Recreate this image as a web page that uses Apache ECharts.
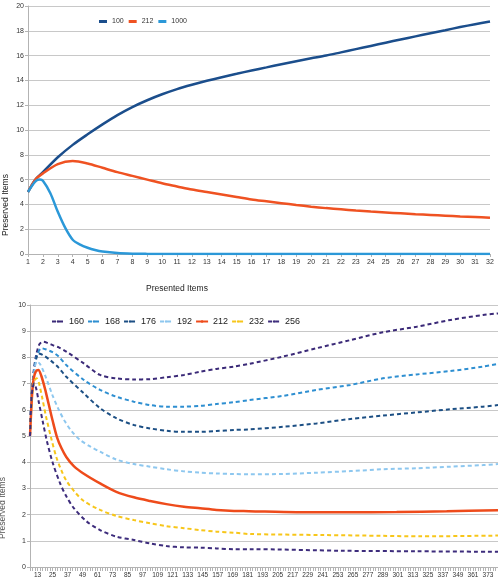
<!DOCTYPE html>
<html><head><meta charset="utf-8">
<script src="https://cdn.jsdelivr.net/npm/echarts@6/dist/echarts.min.js"></script>
<style>html,body{margin:0;padding:0;background:#fff}#c{width:498px;height:579px}</style>
</head><body><div id="c"></div>
<script>
// ---------- Top chart data ----------
const topXLabels = [1,2,3,4,5,6,7,8,9,10,11,12,13,14,15,16,17,18,19,20,21,22,23,24,25,26,27,28,29,30,31,32];
const topNames = ['100','212','1000'];
const top100 = [[1,5.0],[1.5,6.0],[2,6.6],[3,7.8],[4,8.8],[5,9.65],[6,10.45],[7,11.2],[8,11.85],[9,12.4],[10,12.88],[11,13.3],[12,13.65],[13,13.97],[14,14.26],[15,14.53],[16,14.8],[17,15.05],[18,15.3],[19,15.55],[20,15.78],[21,16.0],[22,16.26],[23,16.52],[24,16.78],[25,17.04],[26,17.3],[27,17.55],[28,17.8],[29,18.05],[30,18.3],[31,18.53],[32,18.75]];
const top212 = [[1,5.0],[1.5,6.0],[2,6.5],[3,7.25],[4,7.5],[5,7.3],[6,6.95],[7,6.6],[8,6.3],[9,6.0],[10,5.7],[11,5.45],[12,5.2],[13,5.0],[14,4.8],[15,4.6],[16,4.4],[17,4.25],[18,4.1],[19,3.95],[20,3.82],[21,3.7],[22,3.6],[23,3.5],[24,3.42],[25,3.35],[26,3.28],[27,3.21],[28,3.15],[29,3.09],[30,3.03],[31,2.98],[32,2.93]];
const top1000 = [[1,5.0],[1.5,5.85],[1.8,6.0],[2,5.9],[2.5,4.9],[3,3.4],[3.5,2.1],[4,1.15],[4.5,0.75],[5,0.5],[5.5,0.32],[6,0.2],[7,0.08],[8,0.03],[9,0.01],[10,0],[32,0]];

// ---------- Bottom chart data ----------
const botNames = ['160','168','176','192','212','232','256'];
const botXLabels = [13,25,37,49,61,73,85,97,109,121,133,145,157,169,181,193,205,217,229,241,253,265,277,289,301,313,325,337,349,361,373];
const b160 = [[7,5],[8,6.3],[10,7.5],[12,8.1],[14.5,8.5],[17.6,8.6],[21,8.55],[26,8.45],[30,8.38],[36,8.22],[50,7.77],[63,7.33],[76,7.2],[90,7.16],[103,7.17],[116,7.24],[130,7.33],[143,7.45],[156,7.56],[170,7.65],[182,7.75],[209,8.03],[236,8.35],[263,8.66],[289,8.96],[316,9.17],[343,9.43],[369,9.62],[381,9.68]];
const b168 = [[7,5],[8,6.3],[10,7.4],[12,8.0],[16.3,8.35],[20,8.3],[25,8.2],[30,8.03],[36,7.71],[50,7.14],[63,6.76],[76,6.5],[90,6.31],[103,6.18],[116,6.12],[130,6.12],[143,6.15],[156,6.22],[170,6.29],[182,6.37],[209,6.53],[236,6.76],[263,6.95],[289,7.2],[316,7.35],[343,7.48],[369,7.65],[381,7.75]];
const b176 = [[7,5],[8,6.3],[10,7.4],[12,7.95],[13.7,8.15],[17,8.1],[23,7.9],[30,7.6],[36,7.26],[50,6.63],[63,6.06],[76,5.68],[90,5.42],[103,5.29],[116,5.2],[130,5.16],[143,5.16],[156,5.19],[170,5.23],[182,5.25],[209,5.35],[236,5.48],[263,5.65],[289,5.78],[316,5.9],[343,6.02],[369,6.12],[381,6.18]];
const b192 = [[7,5],[8,6.2],[10,7.3],[12.3,7.84],[15,7.75],[20,7.2],[25,6.55],[30,6.0],[35,5.55],[40,5.2],[47,4.85],[55,4.6],[63,4.4],[76,4.1],[90,3.93],[103,3.83],[116,3.73],[130,3.65],[143,3.6],[156,3.57],[170,3.55],[182,3.54],[209,3.55],[236,3.6],[263,3.66],[289,3.73],[316,3.77],[343,3.83],[369,3.89],[381,3.93]];
const b212 = [[7,5],[8,6.0],[9,6.8],[10,7.2],[11.5,7.45],[13.7,7.52],[16,7.3],[19,6.8],[22,6.2],[25,5.6],[28.6,4.95],[32,4.55],[36,4.2],[42,3.85],[50,3.56],[63,3.19],[76,2.87],[90,2.66],[103,2.52],[116,2.4],[130,2.3],[143,2.24],[156,2.18],[170,2.14],[182,2.13],[220,2.09],[260,2.09],[300,2.1],[340,2.13],[381,2.17]];
const b232 = [[7,5],[8,6.0],[9,6.7],[10.5,7.1],[12.3,7.2],[14,7.05],[17,6.4],[20,5.7],[24.3,4.85],[28,4.2],[32,3.7],[36,3.3],[43,2.85],[50,2.52],[63,2.18],[76,1.95],[90,1.79],[103,1.67],[116,1.56],[130,1.48],[143,1.41],[156,1.35],[170,1.31],[182,1.26],[241,1.22],[289,1.19],[319,1.17],[381,1.2]];
const b256 = [[7,5],[8,6.2],[9,6.8],[10.4,7.0],[12,6.8],[14,6.3],[17,5.6],[20.3,4.85],[25,4.0],[31,3.2],[36,2.7],[42,2.25],[52,1.75],[63,1.41],[76,1.16],[90,1.03],[103,0.9],[116,0.8],[130,0.75],[143,0.74],[156,0.71],[170,0.68],[182,0.68],[257,0.62],[316,0.6],[381,0.58]];

const topColors = ['#1b4e8c','#ef5222','#2b98d8'];
const botColors = ['#3b2a78','#2e8fd1','#1c4f84','#8dc7ef','#ee4b1b','#f7c61a','#3d2c7c'];

const FONT = '"Liberation Sans",Arial,sans-serif';
const minorTicks = [];
for (let v = 7; v <= 381; v += 2) minorTicks.push(v);

const chart = echarts.init(document.getElementById('c'), null, {renderer:'canvas'});
const topData = [top100, top212, top1000];
const botData = [b160, b168, b176, b192, b212, b232, b256];

const series = [];
topNames.forEach((n,i)=>series.push({
  name:n, type:'line', xAxisIndex:0, yAxisIndex:0, data:topData[i],
  symbol:'none', smooth:0.3, z: 3+i,
  lineStyle:{color:topColors[i], width:2.5}, itemStyle:{color:topColors[i]}
}));
botNames.forEach((n,i)=>series.push({
  name:'b'+n, type:'line', xAxisIndex:1, yAxisIndex:1, data:botData[i],
  symbol:'none', smooth:0.3,
  lineStyle:{color:botColors[i], width: n==='212'?2.5:2, type: n==='212'?'solid':[4,3]},
  itemStyle:{color:botColors[i]}
}));

chart.setOption({
  animation:false,
  backgroundColor:'#fff',
  grid:[
    {left:28, right:8, top:6, height:248},
    {left:30, right:0, top:305, height:262}
  ],
  legend:[
    {data:topNames, left:94, top:13, itemWidth:8, itemHeight:3, itemGap:5, icon:'rect',
     textStyle:{fontFamily:FONT, fontSize:7, color:'#333'}},
    {data:botNames.map(n=>({name:'b'+n})), left:46, top:312, itemWidth:12, itemHeight:3, itemGap:3,
     formatter:(n)=>n.slice(1),
     textStyle:{fontFamily:FONT, fontSize:9, color:'#222'}}
  ],
  xAxis:[
    {type:'value', gridIndex:0, min:1, max:32, interval:1,
     axisLine:{lineStyle:{color:'#b3b3b3'}}, axisTick:{show:true, length:3, lineStyle:{color:'#b3b3b3'}},
     axisLabel:{fontFamily:FONT, fontSize:7, color:'#333', margin:5, formatter:(v)=>topXLabels.includes(v)?String(v):''},
     splitLine:{show:false}},
    {type:'value', gridIndex:1, min:7, max:381,
     axisLine:{lineStyle:{color:'#b3b3b3'}},
     axisTick:{show:true, length:4, customValues:minorTicks, lineStyle:{color:'#b3b3b3'}},
     axisLabel:{fontFamily:FONT, fontSize:6.5, color:'#333', margin:5, customValues:botXLabels, hideOverlap:false},
     splitLine:{show:false}}
  ],
  yAxis:[
    {type:'value', gridIndex:0, min:0, max:20, interval:2,
     axisLine:{show:true, lineStyle:{color:'#b3b3b3'}}, axisTick:{show:true, length:3, lineStyle:{color:'#b3b3b3'}},
     axisLabel:{fontFamily:FONT, fontSize:7, color:'#333', margin:4},
     splitLine:{lineStyle:{color:'#c8c8c8', width:1}}},
    {type:'value', gridIndex:1, min:0, max:10, interval:1,
     axisLine:{show:true, lineStyle:{color:'#b3b3b3'}}, axisTick:{show:true, length:3, lineStyle:{color:'#b3b3b3'}},
     axisLabel:{fontFamily:FONT, fontSize:7, color:'#333', margin:4},
     splitLine:{lineStyle:{color:'#c8c8c8', width:1}}}
  ],
  graphic:[
    {type:'text', left:146, top:284, style:{text:'Presented Items', font:'8.5px '+FONT, fill:'#222'}},
    {type:'text', x:1, y:205, rotation:Math.PI/2, style:{text:'Preserved Items', font:'8.5px '+FONT, fill:'#222', align:'center', verticalAlign:'top'}},
    {type:'text', x:-2, y:508, rotation:Math.PI/2, style:{text:'Preserved Items', font:'8.5px '+FONT, fill:'#555', align:'center', verticalAlign:'top'}}
  ],
  series: series
});
</script></body></html>
